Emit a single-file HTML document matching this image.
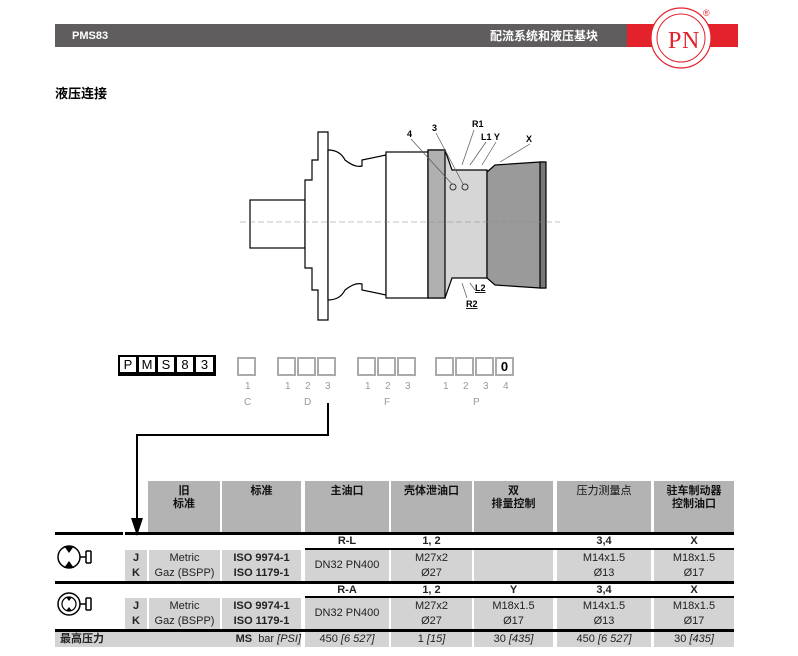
<!DOCTYPE html>
<html><head><meta charset="utf-8"><style>
body{margin:0;background:#fff;width:798px;height:656px;position:relative;overflow:hidden;font-family:"Liberation Sans","Noto Sans CJK SC",sans-serif;}
.a{position:absolute;}
.g{position:absolute;background:#d3d3d3;}
.h{position:absolute;background:#b3b3b3;font-size:11px;font-weight:bold;text-align:center;color:#111;line-height:13px;padding-top:4px;box-sizing:border-box;}
.k{position:absolute;background:#000;}
.t{position:absolute;font-size:11px;text-align:center;color:#222;line-height:13px;}
.b{font-weight:bold;}
.box{position:absolute;top:357px;width:15px;height:15px;border:2px solid #aaa;box-sizing:content-box;}
.pb{position:absolute;top:357px;width:15px;height:15px;border:2px solid #000;font-size:13px;line-height:15px;text-align:center;}
.n{position:absolute;font-size:10px;color:#999;}
</style></head><body>
<div class="a" style="left:55px;top:24px;width:572px;height:23px;background:#5f5d5e;"></div>
<div class="a" style="left:72px;top:28px;color:#fff;font-size:11px;font-weight:bold;line-height:16px;">PMS83</div>
<div class="a" style="left:490px;top:28px;color:#fff;font-size:12px;font-weight:bold;line-height:16px;">配流系统和液压基块</div>
<div class="a" style="left:627px;top:24px;width:111px;height:23px;background:#e3222c;"></div>
<svg class="a" style="left:640px;top:0" width="110" height="70">
<circle cx="41" cy="38" r="30" fill="#fff" stroke="#e3222c" stroke-width="1.2"/>
<circle cx="41" cy="38" r="24" fill="none" stroke="#e3222c" stroke-width="1"/>
<text x="28" y="48" font-family="Liberation Serif" font-size="24" fill="#e3222c">P</text>
<text x="42" y="48" font-family="Liberation Serif" font-size="24" fill="#e3222c">N</text>
<text x="63" y="16" font-size="9" fill="#e3222c">®</text>
</svg>
<div class="a" style="left:55px;top:83px;font-size:13px;font-weight:bold;">液压连接</div>

<svg class="a" style="left:0;top:0" width="798" height="340">
<g stroke="#000" stroke-width="1.2" fill="#fff">
<rect x="250" y="200" width="55" height="48" fill="#fff"/>
<path d="M305 180 L312 180 L312 160 L318 160 L318 132 L328 132 L328 320 L318 320 L318 290 L312 290 L312 268 L305 268 Z"/>
<path d="M328 150 Q340 150 345 160 Q355 168 362 166 L362 160 L386 155 L386 295 L362 290 L362 284 Q355 282 345 290 Q340 300 328 300 Z"/>
<rect x="386" y="152" width="42" height="146"/>
<path d="M428 150 L445 150 L452 170 L487 170 L487 278 L452 278 L445 298 L428 298 Z" fill="#d6d6d6"/>
<rect x="428" y="150" width="17" height="148" fill="#b0b0b0"/>
<path d="M487 172 L495 165 L540 162 L545 162 L545 288 L540 288 L495 285 L487 278 Z" fill="#9a9a9a"/>
<rect x="540" y="162" width="6" height="126" fill="#777"/>
</g>
<line x1="240" y1="222" x2="560" y2="222" stroke="#888" stroke-dasharray="6,3" stroke-width="0.6"/>
<circle cx="453" cy="187" r="3" fill="none" stroke="#333"/><circle cx="465" cy="187" r="3" fill="none" stroke="#333"/>
<g font-size="9" font-weight="bold" fill="#000">
<text x="407" y="137">4</text><text x="432" y="131">3</text><text x="472" y="127">R1</text><text x="481" y="140">L1 Y</text><text x="526" y="142">X</text>
<text x="475" y="291" text-decoration="underline">L2</text><text x="466" y="307" text-decoration="underline">R2</text></g>
<g stroke="#555" stroke-width="0.7"><line x1="411" y1="139" x2="452" y2="184"/><line x1="436" y1="133" x2="463" y2="184"/><line x1="474" y1="130" x2="462" y2="165"/><line x1="486" y1="142" x2="470" y2="165"/><line x1="496" y1="142" x2="482" y2="165"/><line x1="530" y1="144" x2="500" y2="162"/><line x1="470" y1="283" x2="475" y2="290"/><line x1="462" y1="283" x2="467" y2="298"/></g>
</svg>

<div class="a" style="left:118px;top:355px;width:98px;height:21px;background:#000;"></div>
<div class="pb" style="left:120px;background:#fff;top:357px;border:none;width:16px;height:15px;">P</div>
<div class="pb" style="left:139px;background:#fff;border:none;width:16px;">M</div>
<div class="pb" style="left:158px;background:#fff;border:none;width:16px;">S</div>
<div class="pb" style="left:177px;background:#fff;border:none;width:16px;">8</div>
<div class="pb" style="left:196px;background:#fff;border:none;width:17px;">3</div>
<div class="box" style="left:237px"></div>
<div class="box" style="left:277px"></div><div class="box" style="left:297px"></div><div class="box" style="left:317px"></div>
<div class="box" style="left:357px"></div><div class="box" style="left:377px"></div><div class="box" style="left:397px"></div>
<div class="box" style="left:435px"></div><div class="box" style="left:455px"></div><div class="box" style="left:475px"></div><div class="box" style="left:495px;font-size:13px;line-height:15px;text-align:center;font-weight:bold;">0</div>
<div class="n" style="left:245px;top:381px">1</div><div class="n" style="left:244px;top:397px">C</div>
<div class="n" style="left:285px;top:381px">1</div><div class="n" style="left:305px;top:381px">2</div><div class="n" style="left:325px;top:381px">3</div><div class="n" style="left:304px;top:397px">D</div>
<div class="n" style="left:365px;top:381px">1</div><div class="n" style="left:385px;top:381px">2</div><div class="n" style="left:405px;top:381px">3</div><div class="n" style="left:384px;top:397px">F</div>
<div class="n" style="left:443px;top:381px">1</div><div class="n" style="left:463px;top:381px">2</div><div class="n" style="left:483px;top:381px">3</div><div class="n" style="left:503px;top:381px">4</div><div class="n" style="left:473px;top:397px">P</div>
<svg class="a" style="left:0;top:0" width="798" height="656">
<polyline points="328,403 328,435 137,435 137,520" fill="none" stroke="#000" stroke-width="2"/>
<polygon points="131,518 143,518 137,536" fill="#000"/>
<g stroke="#000" stroke-width="1.5" fill="none">
<circle cx="69" cy="557" r="11"/><path d="M80 557 L86 557 M86 551 L86 563 M86 551 L91 551 M86 563 L91 563 M91 551 L91 563"/>
<circle cx="69" cy="604" r="11"/><circle cx="69" cy="604" r="7" stroke-width="1.2"/><path d="M80 604 L86 604 M86 598 L86 610 M86 598 L91 598 M86 610 L91 610 M91 598 L91 610"/>
</g>
<polygon points="64,546 74,546 69,553" fill="#000"/><polygon points="64,568 74,568 69,561" fill="#000"/>
<polygon points="66,597 72,597 69,601" fill="#000"/><polygon points="66,611 72,611 69,607" fill="#000"/>
</svg>

<div class="h" style="left:148px;top:481px;width:72px;height:52px;">旧<br>标准</div>
<div class="h" style="left:222px;top:481px;width:79px;height:52px;">标准</div>
<div class="h" style="left:305px;top:481px;width:84px;height:52px;">主油口</div>
<div class="h" style="left:391px;top:481px;width:81px;height:52px;">壳体泄油口</div>
<div class="h" style="left:474px;top:481px;width:79px;height:52px;">双<br>排量控制</div>
<div class="h" style="left:557px;top:481px;width:94px;height:52px;font-weight:normal;">压力测量点</div>
<div class="h" style="left:654px;top:481px;width:80px;height:52px;">驻车制动器<br>控制油口</div>

<div class="k" style="left:55px;top:532px;width:68px;height:3px;"></div>
<div class="k" style="left:125px;top:532px;width:609px;height:3px;"></div>
<div class="t b" style="left:305px;top:535px;width:84px;">R-L</div>
<div class="t b" style="left:391px;top:535px;width:81px;">1, 2</div>
<div class="t b" style="left:557px;top:535px;width:94px;">3,4</div>
<div class="t b" style="left:654px;top:535px;width:80px;">X</div>
<div class="k" style="left:305px;top:548px;width:429px;height:2px;"></div>

<div class="g" style="left:125px;top:550px;width:22px;height:31px;"></div>
<div class="g" style="left:149px;top:550px;width:71px;height:31px;"></div>
<div class="g" style="left:222px;top:550px;width:79px;height:31px;"></div>
<div class="g" style="left:305px;top:550px;width:84px;height:31px;"></div>
<div class="g" style="left:391px;top:550px;width:81px;height:31px;"></div>
<div class="g" style="left:474px;top:550px;width:79px;height:31px;"></div>
<div class="g" style="left:557px;top:550px;width:94px;height:31px;"></div>
<div class="g" style="left:654px;top:550px;width:80px;height:31px;"></div>
<div class="t b" style="left:125px;top:551px;width:22px;line-height:15px;">J<br>K</div>
<div class="t" style="left:149px;top:551px;width:71px;line-height:15px;">Metric<br>Gaz (BSPP)</div>
<div class="t b" style="left:222px;top:551px;width:79px;line-height:15px;">ISO 9974-1<br>ISO 1179-1</div>
<div class="t" style="left:305px;top:559px;width:84px;">DN32 PN400</div>
<div class="t" style="left:391px;top:551px;width:81px;line-height:15px;">M27x2<br>Ø27</div>
<div class="t" style="left:557px;top:551px;width:94px;line-height:15px;">M14x1.5<br>Ø13</div>
<div class="t" style="left:654px;top:551px;width:80px;line-height:15px;">M18x1.5<br>Ø17</div>

<div class="k" style="left:55px;top:581px;width:679px;height:3px;"></div>
<div class="t b" style="left:305px;top:584px;width:84px;">R-A</div>
<div class="t b" style="left:391px;top:584px;width:81px;">1, 2</div>
<div class="t b" style="left:474px;top:584px;width:79px;">Y</div>
<div class="t b" style="left:557px;top:584px;width:94px;">3,4</div>
<div class="t b" style="left:654px;top:584px;width:80px;">X</div>
<div class="k" style="left:305px;top:596px;width:429px;height:2px;"></div>

<div class="g" style="left:125px;top:598px;width:22px;height:31px;"></div>
<div class="g" style="left:149px;top:598px;width:71px;height:31px;"></div>
<div class="g" style="left:222px;top:598px;width:79px;height:31px;"></div>
<div class="g" style="left:305px;top:598px;width:84px;height:31px;"></div>
<div class="g" style="left:391px;top:598px;width:81px;height:31px;"></div>
<div class="g" style="left:474px;top:598px;width:79px;height:31px;"></div>
<div class="g" style="left:557px;top:598px;width:94px;height:31px;"></div>
<div class="g" style="left:654px;top:598px;width:80px;height:31px;"></div>
<div class="t b" style="left:125px;top:599px;width:22px;line-height:15px;">J<br>K</div>
<div class="t" style="left:149px;top:599px;width:71px;line-height:15px;">Metric<br>Gaz (BSPP)</div>
<div class="t b" style="left:222px;top:599px;width:79px;line-height:15px;">ISO 9974-1<br>ISO 1179-1</div>
<div class="t" style="left:305px;top:607px;width:84px;">DN32 PN400</div>
<div class="t" style="left:391px;top:599px;width:81px;line-height:15px;">M27x2<br>Ø27</div>
<div class="t" style="left:474px;top:599px;width:79px;line-height:15px;">M18x1.5<br>Ø17</div>
<div class="t" style="left:557px;top:599px;width:94px;line-height:15px;">M14x1.5<br>Ø13</div>
<div class="t" style="left:654px;top:599px;width:80px;line-height:15px;">M18x1.5<br>Ø17</div>

<div class="k" style="left:55px;top:629px;width:679px;height:3px;"></div>
<div class="g" style="left:55px;top:632px;width:246px;height:15px;"></div>
<div class="g" style="left:305px;top:632px;width:84px;height:15px;"></div>
<div class="g" style="left:391px;top:632px;width:81px;height:15px;"></div>
<div class="g" style="left:474px;top:632px;width:79px;height:15px;"></div>
<div class="g" style="left:557px;top:632px;width:94px;height:15px;"></div>
<div class="g" style="left:654px;top:632px;width:80px;height:15px;"></div>
<div class="t b" style="left:60px;top:633px;text-align:left;">最高压力</div>
<div class="t" style="left:226px;top:633px;width:75px;text-align:right;"><b>MS</b>&nbsp; bar <i>[PSI]</i></div>
<div class="t" style="left:305px;top:633px;width:84px;">450 <i>[6 527]</i></div>
<div class="t" style="left:391px;top:633px;width:81px;">1 <i>[15]</i></div>
<div class="t" style="left:474px;top:633px;width:79px;">30 <i>[435]</i></div>
<div class="t" style="left:557px;top:633px;width:94px;">450 <i>[6 527]</i></div>
<div class="t" style="left:654px;top:633px;width:80px;">30 <i>[435]</i></div>
</body></html>
